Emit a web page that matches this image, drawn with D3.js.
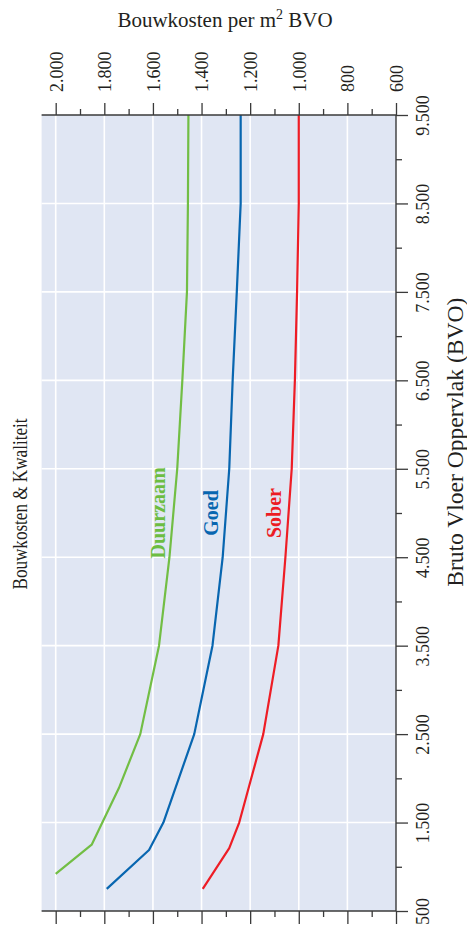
<!DOCTYPE html>
<html>
<head>
<meta charset="utf-8">
<script src="https://cdn.jsdelivr.net/npm/d3@7"></script>
<style>
  html, body { margin: 0; padding: 0; background: #ffffff; }
  svg { display: block; }
  text { font-family: "Liberation Serif", "DejaVu Serif", serif; fill: #231f20; }
</style>
</head>
<body>
<svg id="chart" width="467" height="926"></svg>
<script>
// ---------------- DATA ----------------
const seriesNames = ["Duurzaam", "Goed", "Sober"];

const duurzaamBVO  = [920, 1250, 1890, 2500, 3500, 4500, 5500, 6500, 7500, 8500, 9500];
const duurzaamCost = [2000, 1852, 1740, 1652, 1575, 1532, 1500, 1479, 1460, 1456, 1454];

const goedBVO  = [750, 1190, 1500, 2500, 3500, 4500, 5500, 6500, 7500, 8500, 9500];
const goedCost = [1790, 1616, 1557, 1430, 1355, 1313, 1286, 1272, 1255, 1239, 1239];

const soberBVO  = [750, 1210, 1500, 2500, 3500, 4500, 5500, 6500, 7500, 8500, 9500];
const soberCost = [1395, 1286, 1245, 1146, 1084, 1055, 1029, 1016, 1007, 1000, 1000];

const costMajorTicks = [600, 800, 1000, 1200, 1400, 1600, 1800, 2000];
const costMinorTicks = [700, 900, 1100, 1300, 1500, 1700, 1900];
const bvoMajorTicks  = [500, 1500, 2500, 3500, 4500, 5500, 6500, 7500, 8500, 9500];
const bvoMinorTicks  = [1000, 2000, 3000, 4000, 5000, 6000, 7000, 8000, 9000];

const titleTop   = "Bouwkosten per m";
const titleSup   = "2";
const titleTop2  = " BVO";
const titleLeft  = "Bouwkosten & Kwaliteit";
const titleRight = "Bruto Vloer Oppervlak (BVO)";
const labelAtBVO = 5000;

// ---------------- STYLE ----------------
const colors = { "Duurzaam": "#72be44", "Goed": "#0866b0", "Sober": "#ee1d25" };
const labelColors = { "Duurzaam": "#6cbd42", "Goed": "#0866b0", "Sober": "#ec1c24" };
const bg = "#e0e6f3";
const axisColor = "#3a3a3a";

const nl = d3.formatLocale({ decimal: ",", thousands: ".", grouping: [3], currency: ["€", ""] });
const fmt = nl.format(",");

// ---------------- SCALES ----------------
const x = d3.scaleLinear().domain([600, 2000]).range([396, 55.7]);   // cost, horizontal
const y = d3.scaleLinear().domain([500, 9500]).range([911, 115]);    // BVO, vertical
const plotLeft = x(2058);
const plotRight = x(600);
const plotTop = y(9500);
const plotBottom = y(500);

const svg = d3.select("#chart");

// background
svg.append("rect")
  .attr("x", plotLeft).attr("y", plotTop)
  .attr("width", plotRight - plotLeft).attr("height", plotBottom - plotTop)
  .attr("fill", bg);

// gridlines
const grid = svg.append("g");
grid.selectAll("line.v").data(costMajorTicks.filter(d => d !== 600)).join("line")
  .attr("x1", d => x(d)).attr("x2", d => x(d))
  .attr("y1", plotTop).attr("y2", plotBottom)
  .attr("stroke", "#ffffff").attr("stroke-width", 1.6);
grid.selectAll("line.h").data(bvoMajorTicks.filter(d => d !== 500 && d !== 9500)).join("line")
  .attr("x1", plotLeft).attr("x2", plotRight)
  .attr("y1", d => y(d)).attr("y2", d => y(d))
  .attr("stroke", "#ffffff").attr("stroke-width", 1.6);

// series lines
const series = [
  { name: "Duurzaam", bvo: duurzaamBVO, cost: duurzaamCost },
  { name: "Goed", bvo: goedBVO, cost: goedCost },
  { name: "Sober", bvo: soberBVO, cost: soberCost }
];
const line = d3.line().x(d => x(d[1])).y(d => y(d[0]));
series.forEach(s => {
  const pts = s.bvo.map((b, i) => [b, s.cost[i]]);
  svg.append("path")
    .attr("d", line(pts))
    .attr("fill", "none")
    .attr("stroke", colors[s.name])
    .attr("stroke-width", 2.2)
    .attr("stroke-linejoin", "round");
});

// series labels
series.forEach(s => {
  const interp = d3.scaleLinear().domain(s.bvo).range(s.cost);
  const cx = x(interp(labelAtBVO)) - 8;
  const cy = y(labelAtBVO);
  svg.append("text")
    .attr("transform", `translate(${cx},${cy}) rotate(-90)`)
    .attr("text-anchor", "middle")
    .attr("font-size", 20)
    .attr("font-weight", "bold")
    .style("fill", labelColors[s.name])
    .text(s.name);
});

// ---------------- AXES ----------------
function styleAxis(g) {
  g.select(".domain").remove();
  g.selectAll(".tick line").attr("stroke", axisColor).attr("stroke-width", 1.3);
  g.selectAll(".tick text").style("fill", "#231f20").attr("font-size", 18)
    .attr("font-family", '"Liberation Serif", "DejaVu Serif", serif');
}

// top axis (cost)
const topAxis = svg.append("g").attr("transform", `translate(0,${plotTop})`)
  .call(d3.axisTop(x).tickValues(costMajorTicks).tickSize(12).tickFormat(fmt));
styleAxis(topAxis);
topAxis.selectAll(".tick text")
  .attr("transform", "rotate(-90)")
  .attr("x", 23).attr("y", 0).attr("dy", "0.35em")
  .attr("text-anchor", "start");
svg.append("g").attr("transform", `translate(0,${plotTop})`)
  .call(d3.axisTop(x).tickValues(costMinorTicks).tickSize(6).tickFormat(""))
  .call(styleAxis);

// bottom axis (cost, ticks only)
svg.append("g").attr("transform", `translate(0,${plotBottom})`)
  .call(d3.axisBottom(x).tickValues(costMajorTicks).tickSize(13).tickFormat(""))
  .call(styleAxis);
svg.append("g").attr("transform", `translate(0,${plotBottom})`)
  .call(d3.axisBottom(x).tickValues(costMinorTicks).tickSize(6).tickFormat(""))
  .call(styleAxis);

// right axis (BVO)
const rightAxis = svg.append("g").attr("transform", `translate(${plotRight},0)`)
  .call(d3.axisRight(y).tickValues(bvoMajorTicks).tickSize(12).tickFormat(fmt));
styleAxis(rightAxis);
rightAxis.selectAll(".tick text")
  .attr("transform", "rotate(-90)")
  .attr("x", 0).attr("y", 27).attr("dy", "0.35em")
  .attr("text-anchor", "middle");
svg.append("g").attr("transform", `translate(${plotRight},0)`)
  .call(d3.axisRight(y).tickValues(bvoMinorTicks).tickSize(6).tickFormat(""))
  .call(styleAxis);

// axis lines
svg.append("line").attr("x1", plotLeft).attr("x2", plotRight)
  .attr("y1", plotTop).attr("y2", plotTop)
  .attr("stroke", axisColor).attr("stroke-width", 1.4);
svg.append("line").attr("x1", plotLeft).attr("x2", plotRight)
  .attr("y1", plotBottom).attr("y2", plotBottom)
  .attr("stroke", axisColor).attr("stroke-width", 1.4);
svg.append("line").attr("x1", plotRight).attr("x2", plotRight)
  .attr("y1", plotTop).attr("y2", plotBottom)
  .attr("stroke", axisColor).attr("stroke-width", 1.4);

// ---------------- TITLES ----------------
const tt = svg.append("text")
  .attr("x", 225).attr("y", 27)
  .attr("text-anchor", "middle")
  .attr("font-size", 21);
tt.append("tspan").text(titleTop);
tt.append("tspan").attr("dy", -8).attr("font-size", 14).text(titleSup);
tt.append("tspan").attr("dy", 8).text(titleTop2);

svg.append("text")
  .attr("transform", `translate(27,${(plotTop + plotBottom) / 2 - 9}) rotate(-90)`)
  .attr("text-anchor", "middle")
  .attr("font-size", 21)
  .attr("textLength", 171)
  .attr("lengthAdjust", "spacingAndGlyphs")
  .text(titleLeft);

svg.append("text")
  .attr("transform", `translate(463,${y(5800)}) rotate(-90)`)
  .attr("text-anchor", "middle")
  .attr("font-size", 24)
  .attr("textLength", 289)
  .attr("lengthAdjust", "spacingAndGlyphs")
  .text(titleRight);
</script>
</body>
</html>
